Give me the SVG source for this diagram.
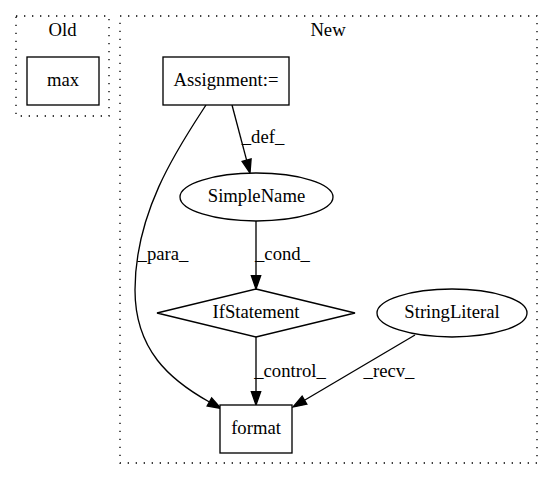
<svg xmlns="http://www.w3.org/2000/svg" width="553" height="480" viewBox="0 0 553 480">
<style>
.t{font-family:'Liberation Serif','Times New Roman',Times,serif;font-size:18.67px;fill:#000;text-anchor:middle}
.cl{fill:none;stroke:#000;stroke-dasharray:1.33,6.67;stroke-width:1.33}
.nd{fill:#fff;stroke:#000;stroke-width:1.33}
.ed{fill:none;stroke:#000;stroke-width:1.33;marker-end:url(#ah)}
</style>
<defs>
<marker id="ah" markerWidth="14" markerHeight="10" refX="0" refY="4.65" orient="auto" markerUnits="userSpaceOnUse" overflow="visible">
<polygon points="0,0 13.3,4.65 0,9.3" fill="#000" stroke="#000" stroke-width="1.33"/>
</marker>
</defs>
<rect width="553" height="480" fill="#fff"/>
<g id="cluster_old">
<rect class="cl" x="16" y="16" width="93" height="100"/>
<text class="t" x="62.5" y="36">Old</text>
</g>
<g id="cluster_new">
<rect class="cl" x="120" y="16" width="417" height="447"/>
<text class="t" x="328" y="36">New</text>
</g>
<g id="connectors">
<path class="ed" d="M232,105 L246.6,160.1"/>
<text class="t" x="263" y="143">_def_</text>
<path class="ed" d="M206,105 C180,145 135,210 135,290 C135,350 170,380 209.4,402"/>
<text class="t" x="163" y="260">_para_</text>
<path class="ed" d="M256,221 L256,275.7"/>
<text class="t" x="282.5" y="260">_cond_</text>
<path class="ed" d="M256,337 L256,391.7"/>
<text class="t" x="290" y="377">_control_</text>
<path class="ed" d="M415,335 L304.5,400.2"/>
<text class="t" x="389" y="377">_recv_</text>
</g>
<g id="node_max">
<rect class="nd" x="27" y="57" width="72" height="48"/>
<text class="t" x="63" y="86">max</text>
</g>
<g id="node_assignment">
<rect class="nd" x="163" y="57" width="126" height="48"/>
<text class="t" x="226" y="86">Assignment:=</text>
</g>
<g id="node_simplename">
<ellipse class="nd" cx="256.5" cy="197" rx="76.5" ry="24"/>
<text class="t" x="256.5" y="202">SimpleName</text>
</g>
<g id="node_ifstatement">
<polygon class="nd" points="256,289 355,313 256,337 157,313"/>
<text class="t" x="256" y="318">IfStatement</text>
</g>
<g id="node_stringliteral">
<ellipse class="nd" cx="452" cy="313" rx="75" ry="24"/>
<text class="t" x="452" y="318">StringLiteral</text>
</g>
<g id="node_format">
<rect class="nd" x="220" y="405" width="72" height="48"/>
<text class="t" x="256" y="434">format</text>
</g>
</svg>
